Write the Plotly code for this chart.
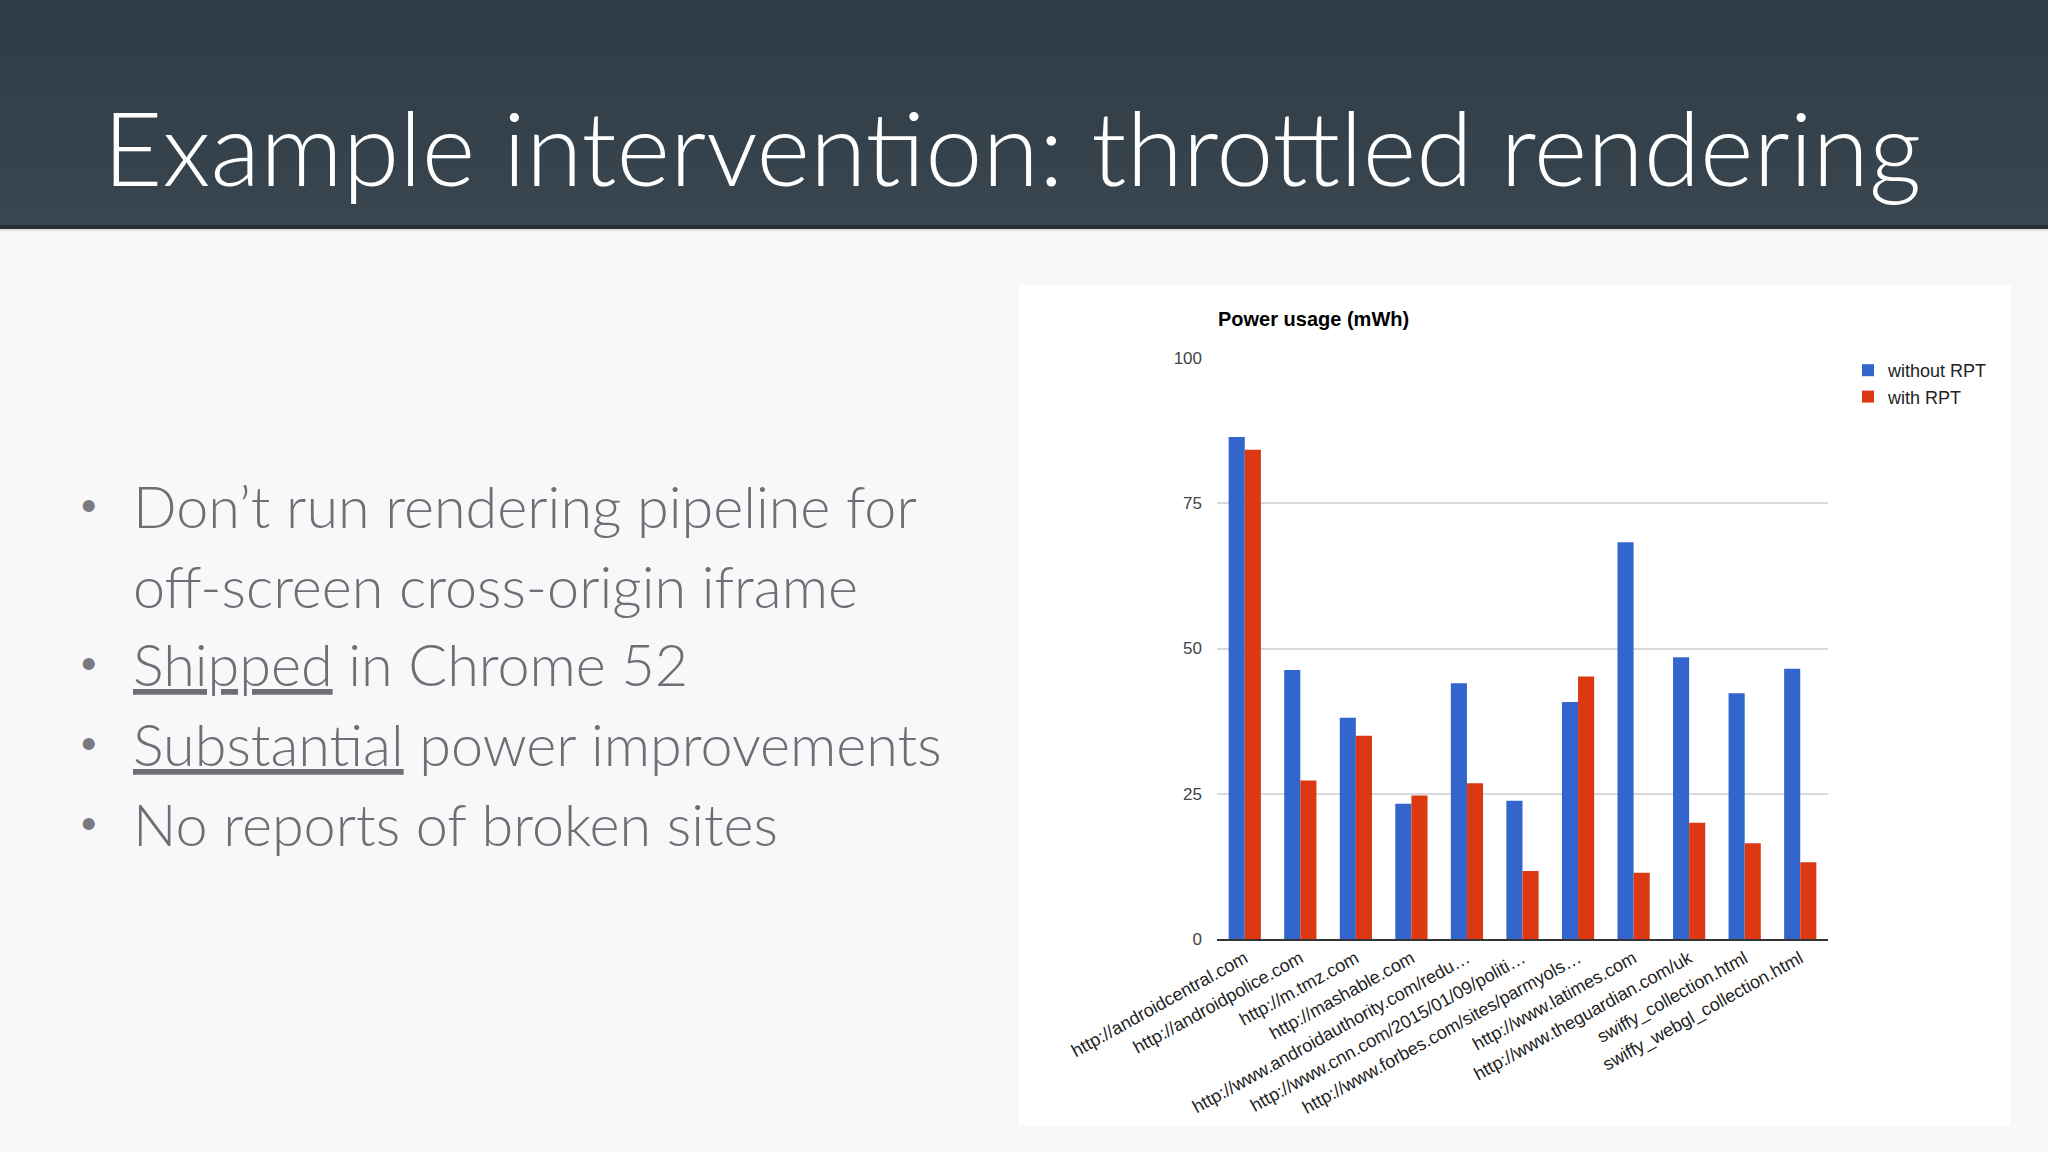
import plotly.graph_objects as go

# ---- data ----
sites = [
    "http://androidcentral.com",
    "http://androidpolice.com",
    "http://m.tmz.com",
    "http://mashable.com",
    "http://www.androidauthority.com/redu…",
    "http://www.cnn.com/2015/01/09/politi…",
    "http://www.forbes.com/sites/parmyols…",
    "http://www.latimes.com",
    "http://www.theguardian.com/uk",
    "swiffy_collection.html",
    "swiffy_webgl_collection.html",
]
without_rpt = [86.4, 46.3, 38.1, 23.3, 44.0, 23.8, 40.8, 68.3, 48.5, 42.3, 46.5]
with_rpt = [84.2, 27.3, 35.0, 24.7, 26.8, 11.7, 45.2, 11.4, 20.0, 16.5, 13.2]
series_names = ["without RPT", "with RPT"]
y_ticks = [0, 25, 50, 75, 100]

slide_title = "Example intervention: throttled rendering"
bullets = [
    ("Don’t run rendering pipeline for", True),
    ("off-screen cross-origin iframe", False),
    ("<u>Shipped</u> in Chrome 52", True),
    ("<u>Substantial</u> power improvements", True),
    ("No reports of broken sites", True),
]
chart_title = "Power usage (mWh)"

W, H = 2048, 1152
BLUE = "#3366cc"
RED = "#dc3912"
BG = "#f8f7fa"


def px_x(x):
    return x / W


def px_y(y):
    return 1 - y / H


fig = go.Figure()
fig.add_trace(go.Bar(x=sites, y=without_rpt, name=series_names[0],
                     marker=dict(color=BLUE, line=dict(width=0))))
fig.add_trace(go.Bar(x=sites, y=with_rpt, name=series_names[1],
                     marker=dict(color=RED, line=dict(width=0))))

# banner: soft vertical gradient built from thin bands
shapes = []
top_rgb = (0x2f, 0x3b, 0x45)
bot_rgb = (0x39, 0x46, 0x4f)
n_bands = 12
banner_h = 226
for i in range(n_bands):
    t = i / (n_bands - 1)
    c = tuple(round(a + (b - a) * t) for a, b in zip(top_rgb, bot_rgb))
    y0 = banner_h * i / n_bands
    y1 = banner_h * (i + 1) / n_bands + 1
    shapes.append(dict(type="rect", xref="paper", yref="paper", x0=0, x1=1,
                       y0=px_y(min(y1, banner_h)), y1=px_y(y0),
                       fillcolor="rgb(%d,%d,%d)" % c, line=dict(width=0), layer="below"))
shapes += [
    dict(type="rect", xref="paper", yref="paper", x0=0, x1=1, y0=px_y(229), y1=px_y(225),
         fillcolor="#272f35", line=dict(width=0), layer="below"),
    dict(type="rect", xref="paper", yref="paper", x0=0, x1=1, y0=px_y(231), y1=px_y(229),
         fillcolor="#e2ded8", line=dict(width=0), layer="below"),
    # white chart panel
    dict(type="rect", xref="paper", yref="paper", x0=px_x(1019), x1=px_x(2011),
         y0=px_y(1126), y1=px_y(285), fillcolor="#ffffff", line=dict(width=0), layer="below"),
]

annotations = [
    dict(text=slide_title, xref="paper", yref="paper", x=px_x(101), y=px_y(146),
         xanchor="left", yanchor="middle", showarrow=False,
         font=dict(family="Lato", size=102.5, color="#ffffff", weight=300)),
    dict(text="<b>" + chart_title + "</b>", xref="paper", yref="paper", x=px_x(1216), y=px_y(319),
         xanchor="left", yanchor="middle", showarrow=False,
         font=dict(family="Liberation Sans", size=20, color="#000000")),
]

line_y = [505, 585, 663, 743, 823]
for (txt, has_bullet), yy in zip(bullets, line_y):
    annotations.append(dict(text=txt, xref="paper", yref="paper", x=px_x(131), y=px_y(yy),
                            xanchor="left", yanchor="middle", showarrow=False,
                            font=dict(family="Lato", size=57.5, color="#6e6e73", weight=300)))
    if has_bullet:
        annotations.append(dict(text="•", xref="paper", yref="paper", x=px_x(88), y=px_y(yy),
                                xanchor="center", yanchor="middle", showarrow=False,
                                font=dict(family="Liberation Sans", size=44, color="#7a7a7f")))

fig.update_layout(
    width=W, height=H,
    margin=dict(l=0, r=0, t=0, b=0, autoexpand=False),
    paper_bgcolor=BG,
    plot_bgcolor="#ffffff",
    barmode="group",
    bargap=0.42,
    bargroupgap=0.0,
    showlegend=True,
    legend=dict(x=px_x(1848), y=px_y(352), xanchor="left", yanchor="top",
                font=dict(family="Liberation Sans", size=18, color="#222222"),
                bgcolor="rgba(0,0,0,0)", tracegroupgap=0),
    xaxis=dict(domain=[px_x(1217), px_x(1828)], anchor="y", automargin=False,
               tickangle=-29, showgrid=False, ticks="",
               showline=True, linecolor="#333333", linewidth=2,
               tickfont=dict(family="Liberation Sans", size=18, color="#222222")),
    yaxis=dict(domain=[px_y(939), px_y(358)], range=[0, 100], tickvals=y_ticks,
               automargin=False,
               showgrid=True, gridcolor="#d9d9d9", gridwidth=1.5, zeroline=False,
               ticks="", ticklabelstandoff=14,
               tickfont=dict(family="Liberation Sans", size=17, color="#444444")),
    shapes=shapes,
    annotations=annotations,
)

fig.write_html(
    "out.html",
    config={"displayModeBar": False},
    post_script="document.body.style.margin='0';document.body.style.background='%s';" % BG,
)
